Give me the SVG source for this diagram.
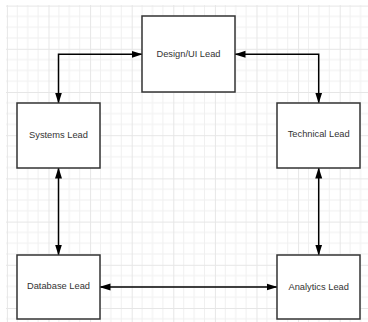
<svg xmlns="http://www.w3.org/2000/svg" width="368" height="322" viewBox="0 0 368 322">
  <style>
    .box { fill: #ffffff; stroke: #333333; stroke-width: 1.5; }
    .lbl { font-family: "Liberation Sans", Arial, sans-serif; font-size: 9.3px; fill: #333333; text-anchor: middle; }
    .conn { fill: none; stroke: #000000; stroke-width: 1.5; marker-start: url(#arrow); marker-end: url(#arrow); }
    .minor { stroke: #f0f0f0; stroke-width: 1; }
    .major { stroke: #e6e6e6; stroke-width: 1; }
  </style>
  <defs>
    <marker id="arrow" markerUnits="userSpaceOnUse" markerWidth="11" markerHeight="8" refX="10.5" refY="3.5" orient="auto-start-reverse" viewBox="0 0 11 7">
      <path d="M0,0 L11,3.5 L0,7 Z" fill="#000000"/>
    </marker>
    <pattern id="grid" patternUnits="userSpaceOnUse" x="6.9" y="5.6" width="41.6" height="43.2">
      <line class="minor" x1="10.4" y1="0" x2="10.4" y2="43.2"/>
      <line class="minor" x1="20.8" y1="0" x2="20.8" y2="43.2"/>
      <line class="minor" x1="31.2" y1="0" x2="31.2" y2="43.2"/>
      <line class="minor" x1="0" y1="10.8" x2="41.6" y2="10.8"/>
      <line class="minor" x1="0" y1="21.6" x2="41.6" y2="21.6"/>
      <line class="minor" x1="0" y1="32.4" x2="41.6" y2="32.4"/>
      <line class="major" x1="0.5" y1="0" x2="0.5" y2="43.2"/>
      <line class="major" x1="0" y1="0.5" x2="41.6" y2="0.5"/>
    </pattern>
  </defs>
  <rect x="0" y="0" width="368" height="322" fill="#ffffff"/>
  <rect x="6" y="5" width="362" height="317" fill="url(#grid)"/>

  <g id="connectors">
    <path class="conn" d="M58.5,103 V54.3 H142"/>
    <path class="conn" d="M235,54.3 H318.7 V103"/>
    <path class="conn" d="M58.5,168 V255"/>
    <path class="conn" d="M318.7,168 V255"/>
    <path class="conn" d="M100,287 H277"/>
  </g>

  <g id="design-ui-lead">
    <rect class="box" x="142" y="16" width="93" height="76"/>
    <text class="lbl" x="188.5" y="57.3">Design/UI Lead</text>
  </g>
  <g id="systems-lead">
    <rect class="box" x="17" y="103" width="83" height="65"/>
    <text class="lbl" x="58.5" y="137.6">Systems Lead</text>
  </g>
  <g id="technical-lead">
    <rect class="box" x="277" y="103" width="83" height="65"/>
    <text class="lbl" x="318.7" y="137.4">Technical Lead</text>
  </g>
  <g id="database-lead">
    <rect class="box" x="17" y="255" width="83" height="64"/>
    <text class="lbl" x="58.5" y="289.4">Database Lead</text>
  </g>
  <g id="analytics-lead">
    <rect class="box" x="277" y="255" width="83" height="64"/>
    <text class="lbl" x="318.7" y="289.6">Analytics Lead</text>
  </g>
</svg>
